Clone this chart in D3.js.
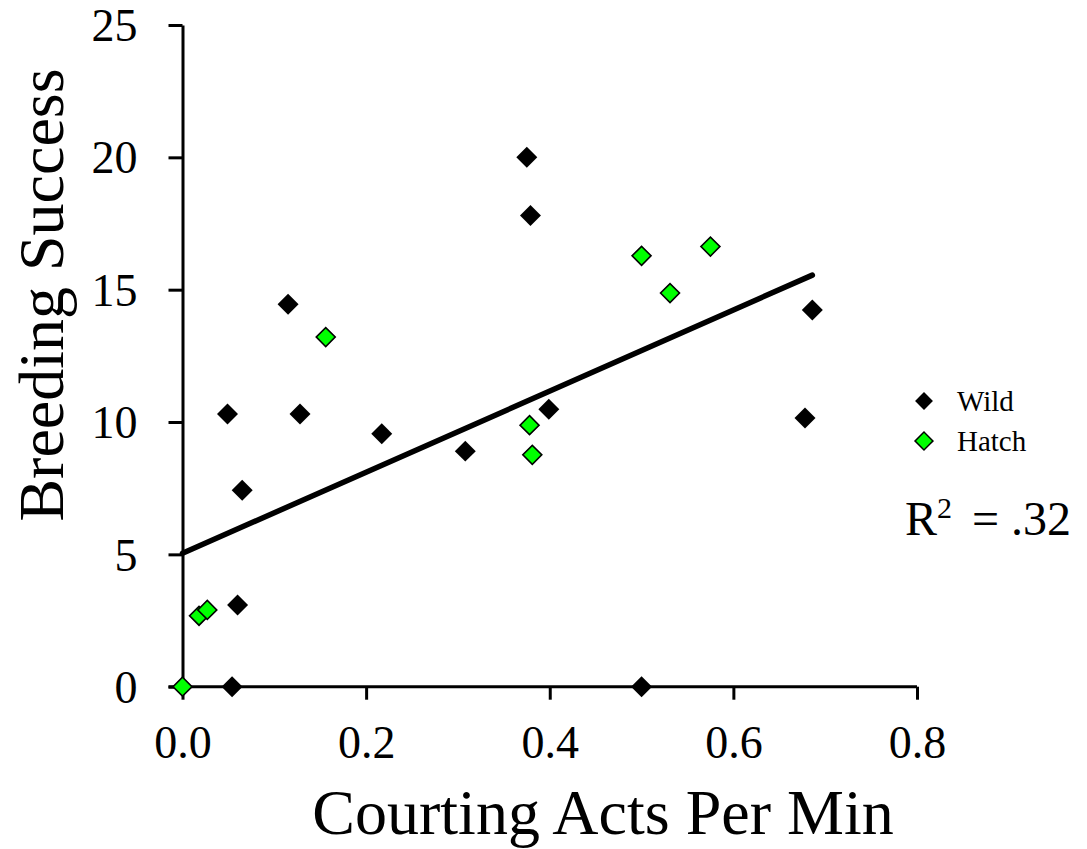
<!DOCTYPE html>
<html>
<head>
<meta charset="utf-8">
<script src="https://cdn.jsdelivr.net/npm/d3@7"></script>
<style>
  body { margin: 0; background: #fff; }
  text { font-family: "Liberation Serif", "Times New Roman", serif; fill: #000; }
</style>
</head>
<body>
<div id="app"></div>
<script>
// data
let wildX = [0.375, 0.379, 0.115, 0.049, 0.128, 0.217, 0.065, 0.308, 0.399, 0.060, 0.054, 0.500, 0.678, 0.686]
let wildY = [20.0, 17.8, 14.45, 10.3, 10.3, 9.56, 7.42, 8.9, 10.48, 3.09, 0, 0, 10.15, 14.23]
let hatchX = [0.0, 0.018, 0.027, 0.156, 0.378, 0.381, 0.500, 0.531, 0.575]
let hatchY = [0, 2.68, 2.90, 13.21, 9.88, 8.76, 16.28, 14.87, 16.63]
let xTicks = [0.0, 0.2, 0.4, 0.6, 0.8]
let yTicks = [0, 5, 10, 15, 20, 25]
let fitIntercept = 5.04, fitSlope = 15.32
let r2 = ".32"

let width = 1087, height = 849
let svg = d3.select("#app").append("svg")
    .attr("width", width)
    .attr("height", height)

let x = d3.scaleLinear().domain([0, 0.8]).range([182.5, 917])
let y = d3.scaleLinear().domain([0, 25]).range([686.7, 25])

// axes
let xAxis = svg.append("g")
    .attr("transform", "translate(0," + y(0) + ")")
    .call(d3.axisBottom(x).tickValues(xTicks).tickFormat(d3.format(".1f")).tickSize(13).tickPadding(26).tickSizeOuter(0))
let yAxis = svg.append("g")
    .attr("transform", "translate(" + x(0) + ",0)")
    .call(d3.axisLeft(y).tickValues(yTicks).tickSize(14).tickPadding(31).tickSizeOuter(0))

svg.selectAll(".domain, .tick line")
    .attr("stroke", "#000")
    .attr("stroke-width", 3)
xAxis.select(".domain").attr("d", "M" + (x(0) - 14) + ",0H" + x(0.8))
svg.selectAll(".tick text")
    .style("font-family", "Liberation Serif")
    .style("font-size", "46px")
yAxis.selectAll(".tick text").attr("dy", "0.34em")
xAxis.selectAll(".tick text").attr("dy", "0.71em")

// regression line, drawn over the data range
let fit = d => fitIntercept + fitSlope * d
let xMax = d3.max(wildX.concat(hatchX))
svg.append("line")
    .attr("x1", x(0)).attr("y1", y(fit(0)))
    .attr("x2", x(xMax)).attr("y2", y(fit(xMax)))
    .attr("stroke", "#000")
    .attr("stroke-width", 5.5)
    .attr("stroke-linecap", "round")

// points
let wild = wildX.map((d, i) => ({x: d, y: wildY[i]}))
let hatch = hatchX.map((d, i) => ({x: d, y: hatchY[i]}))

svg.append("g").selectAll("path")
    .data(wild)
    .enter().append("path")
    .attr("d", d3.symbol(d3.symbolSquare, 220))
    .attr("transform", d => "translate(" + x(d.x) + "," + y(d.y) + ") rotate(45)")
    .attr("fill", "#000")

svg.append("g").selectAll("path")
    .data(hatch)
    .enter().append("path")
    .attr("d", d3.symbol(d3.symbolSquare, 180))
    .attr("transform", d => "translate(" + x(d.x) + "," + y(d.y) + ") rotate(45)")
    .attr("fill", "#00ff00")
    .attr("stroke", "#000")
    .attr("stroke-width", 1.6)

// axis titles
svg.append("text")
    .attr("x", 603).attr("y", 834)
    .attr("text-anchor", "middle")
    .style("font-size", "64px")
    .text("Courting Acts Per Min")
svg.append("text")
    .attr("transform", "translate(63,295) rotate(-90)")
    .attr("text-anchor", "middle")
    .style("font-size", "64px")
    .text("Breeding Success")

// legend
let legend = [{name: "Wild", fill: "#000", stroke: "none"}, {name: "Hatch", fill: "#00ff00", stroke: "#000"}]
let lg = svg.append("g").selectAll("g")
    .data(legend)
    .enter().append("g")
    .attr("transform", (d, i) => "translate(924," + (401 + i * 40) + ")")
lg.append("path")
    .attr("d", d3.symbol(d3.symbolSquare, 160))
    .attr("transform", "rotate(45)")
    .attr("fill", d => d.fill)
    .attr("stroke", d => d.stroke)
    .attr("stroke-width", 1.5)
lg.append("text")
    .attr("x", 33).attr("y", 10)
    .style("font-size", "29px")
    .text(d => d.name)

// R squared note
let rt = svg.append("text")
    .attr("x", 905).attr("y", 535)
    .style("font-size", "48px")
rt.append("tspan").text("R")
rt.append("tspan").attr("dy", -17).style("font-size", "30px").text("2")
rt.append("tspan").attr("dy", 17).attr("dx", 8).text(" = " + r2)
</script>
</body>
</html>
